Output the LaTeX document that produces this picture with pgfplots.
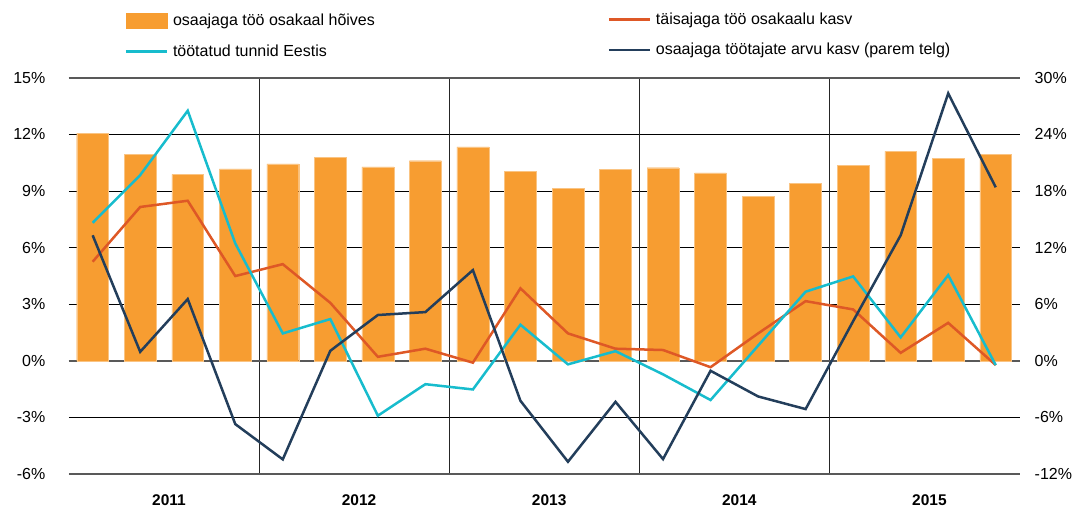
\documentclass[border=0pt]{standalone}
\usepackage{pgfplots}
\pgfplotsset{compat=1.18}
\usepackage{fontspec}
\setmainfont{Liberation Sans}

\definecolor{barorange}{HTML}{F79D31}
\definecolor{fullred}{HTML}{DE5826}
\definecolor{hourscyan}{HTML}{17BCCD}
\definecolor{partnavy}{HTML}{233E5B}

% quarters 2011Q1 ... 2015Q4 at x = 0..19
\pgfplotstableread{
x share full hours
0  12.05  5.25  7.31
1  10.95  8.15  9.84
2   9.88  8.48 13.25
3  10.17  4.49  6.22
4  10.44  5.12  1.45
5  10.78  3.07  2.21
6  10.28  0.21 -2.91
7  10.60  0.64 -1.24
8  11.34 -0.10 -1.52
9  10.04  3.84  1.91
10  9.15  1.45 -0.19
11 10.14  0.64  0.51
12 10.23  0.57 -0.72
13  9.96 -0.34 -2.08
14  8.71  1.45  0.80
15  9.40  3.16  3.66
16 10.35  2.72  4.47
17 11.10  0.42  1.24
18 10.73  2.01  4.54
19 10.95 -0.23 -0.23
}\maindata

% right axis
\pgfplotstableread{
x parttime
0  13.30
1   0.95
2   6.54
3  -6.71
4 -10.45
5   1.06
6   4.85
7   5.16
8   9.61
9  -4.24
10 -10.70
11 -4.35
12 -10.42
13 -1.06
14 -3.78
15 -5.12
16  4.20
17 13.30
18 28.34
19 18.38
}\rightdata

\begin{document}
\begin{tikzpicture}[x=1pt,y=1pt]
\useasboundingbox (0,0) rectangle (1077,507);
\pgfplotsset{
  base/.style={
    at={(68.9pt,33pt)}, anchor=south west,
    width=950.6pt, height=396.3pt, scale only axis,
    xmin=-0.5, xmax=19.5,
    axis line style={draw=none},
    major tick length=0pt,
    tick label style={font=\fontsize{16}{19}\selectfont},
    legend cell align=left,
    legend style={draw=none, fill=none, inner sep=0pt, outer sep=0pt,
      row sep=17pt, font=\fontsize{16}{19}\selectfont,
      nodes={inner sep=0pt},
      /tikz/every odd column/.style={column sep=4.5pt}},
  },
  lineleg/.style={legend image code/.code={\draw[##1] (0pt,0pt) -- (41.3pt,0pt);}},
}
\begin{axis}[base,
  ymin=-6, ymax=15,
  ytick={-6,-3,...,15},
  yticklabels={-6\%,-3\%,0\%,3\%,6\%,9\%,12\%,15\%},
  yticklabel style={anchor=east, inner sep=0pt, xshift=-23.4pt},
  xtick={1.5,5.5,9.5,13.5,17.5},
  xticklabels={2011,2012,2013,2014,2015},
  xticklabel style={font=\bfseries\fontsize{15.5}{18}\selectfont,
    anchor=base, inner sep=0pt, yshift=-31pt, xshift=5pt},
  ymajorgrids,
  major grid style={black, line width=0.8pt},
  extra x ticks={3.5,7.5,11.5,15.5},
  extra x tick labels={},
  extra x tick style={xmajorgrids=true,
    major grid style={black!85, line width=0.9pt}},
  extra y ticks={-6,0,15},
  extra y tick labels={},
  extra y tick style={ymajorgrids=true,
    major grid style={black!65, line width=1.8pt}},
  legend style={at={(axis description cs:0.0587,1.163)}, anchor=north west},
]
\addplot[ybar, bar width=0.67, bar shift=0pt, fill=barorange, draw=barorange!60!white, line width=0.4pt,
  legend image code/.code={\fill[barorange] (0pt,-7.2pt) rectangle (41.3pt,7.2pt);}]
  table[x=x, y=share] {\maindata};
\addlegendentry{osaajaga töö osakaal hõives}
\addplot[fullred, line width=2.5pt, forget plot] table[x=x, y=full] {\maindata};
\addplot[hourscyan, line width=2.5pt, lineleg] table[x=x, y=hours] {\maindata};
\addlegendentry{töötatud tunnid Eestis}
\end{axis}

\begin{axis}[base,
  ymin=-12, ymax=30,
  axis x line=none,
  axis y line*=right,
  ytick={-12,-6,...,30},
  yticklabels={-12\%,-6\%,0\%,6\%,12\%,18\%,24\%,30\%},
  yticklabel style={anchor=west, inner sep=0pt, xshift=15pt},
  legend style={at={(axis description cs:0.5667,1.163)}, anchor=north west},
]
\addlegendimage{fullred, line width=2.5pt, lineleg}
\addlegendentry{täisajaga töö osakaalu kasv}
\addplot[partnavy, line width=2.5pt, lineleg] table[x=x, y=parttime] {\rightdata};
\addlegendentry{osaajaga töötajate arvu kasv (parem telg)}
\end{axis}
\end{tikzpicture}
\end{document}
